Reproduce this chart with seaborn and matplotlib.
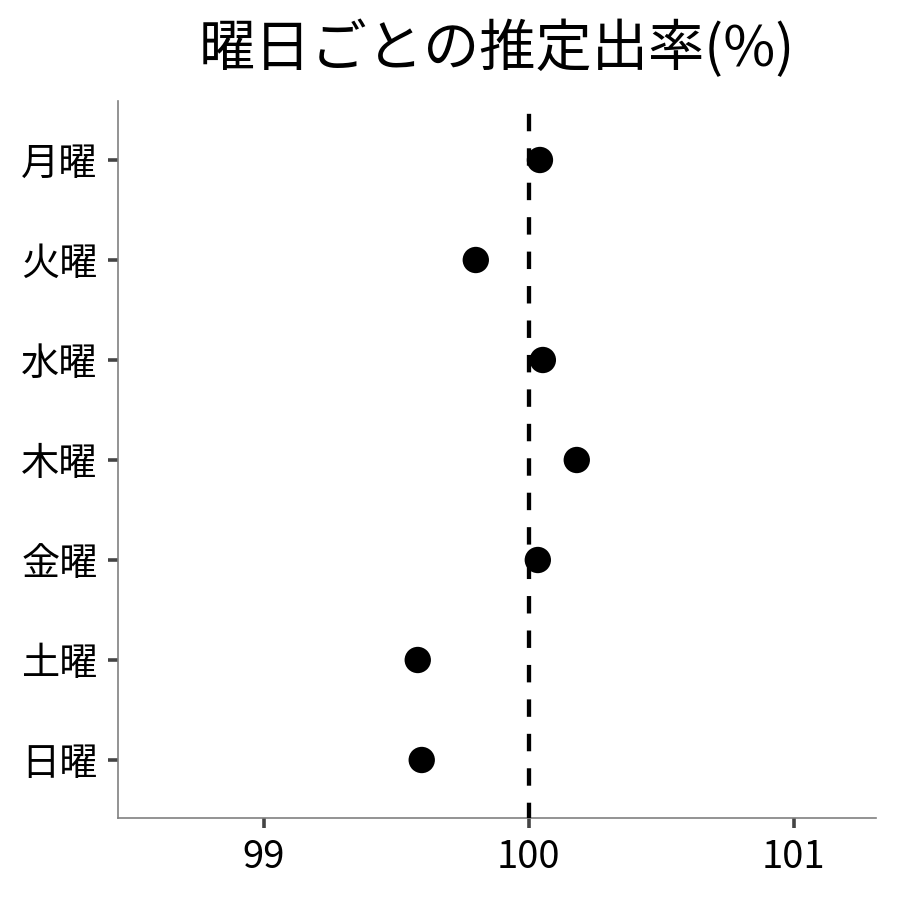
import matplotlib
matplotlib.use("Agg")
import matplotlib.pyplot as plt
import seaborn as sns
import pandas as pd

days = ["月曜", "火曜", "水曜", "木曜", "金曜", "土曜", "日曜"]
rates = [100.042, 99.80, 100.053, 100.181, 100.034, 99.581, 99.596]
xticks = [99, 100, 101]
title = "曜日ごとの推定出率(%)"

sns.set_theme(style="ticks")
plt.rcParams['font.family'] = ['Noto Sans CJK JP', 'DejaVu Sans']

df = pd.DataFrame({"day": days, "rate": rates})

fig = plt.figure(figsize=(9, 9), dpi=100)
ax = fig.add_axes([118/900, 1 - 818/900, (876-118)/900, (818-101)/900])

sns.scatterplot(data=df, x="rate", y="day", ax=ax, color="black", s=360,
                edgecolor="none", zorder=2)
ax.axvline(100, color="black", linestyle=(0.5, (4.05, 3.95)),
           linewidth=3.1, zorder=3)

ax.set_xlim(98.45, 101.31)
ax.set_ylim(6.58, -0.59)
ax.set_xticks(xticks)
ax.set_xticklabels([str(t) for t in xticks])
ax.set_xlabel("")
ax.set_ylabel("")
ax.set_title(title, fontsize=40.5, pad=25, color="black")

for s in ["top", "right"]:
    ax.spines[s].set_visible(False)
for s in ["left", "bottom"]:
    ax.spines[s].set_color("#808080")
    ax.spines[s].set_linewidth(1.2)
ax.tick_params(axis="both", colors="#444444", length=7.5, width=2.6,
               labelsize=27.5, labelcolor="black", pad=7)

fig.savefig("out.png", dpi=100)
